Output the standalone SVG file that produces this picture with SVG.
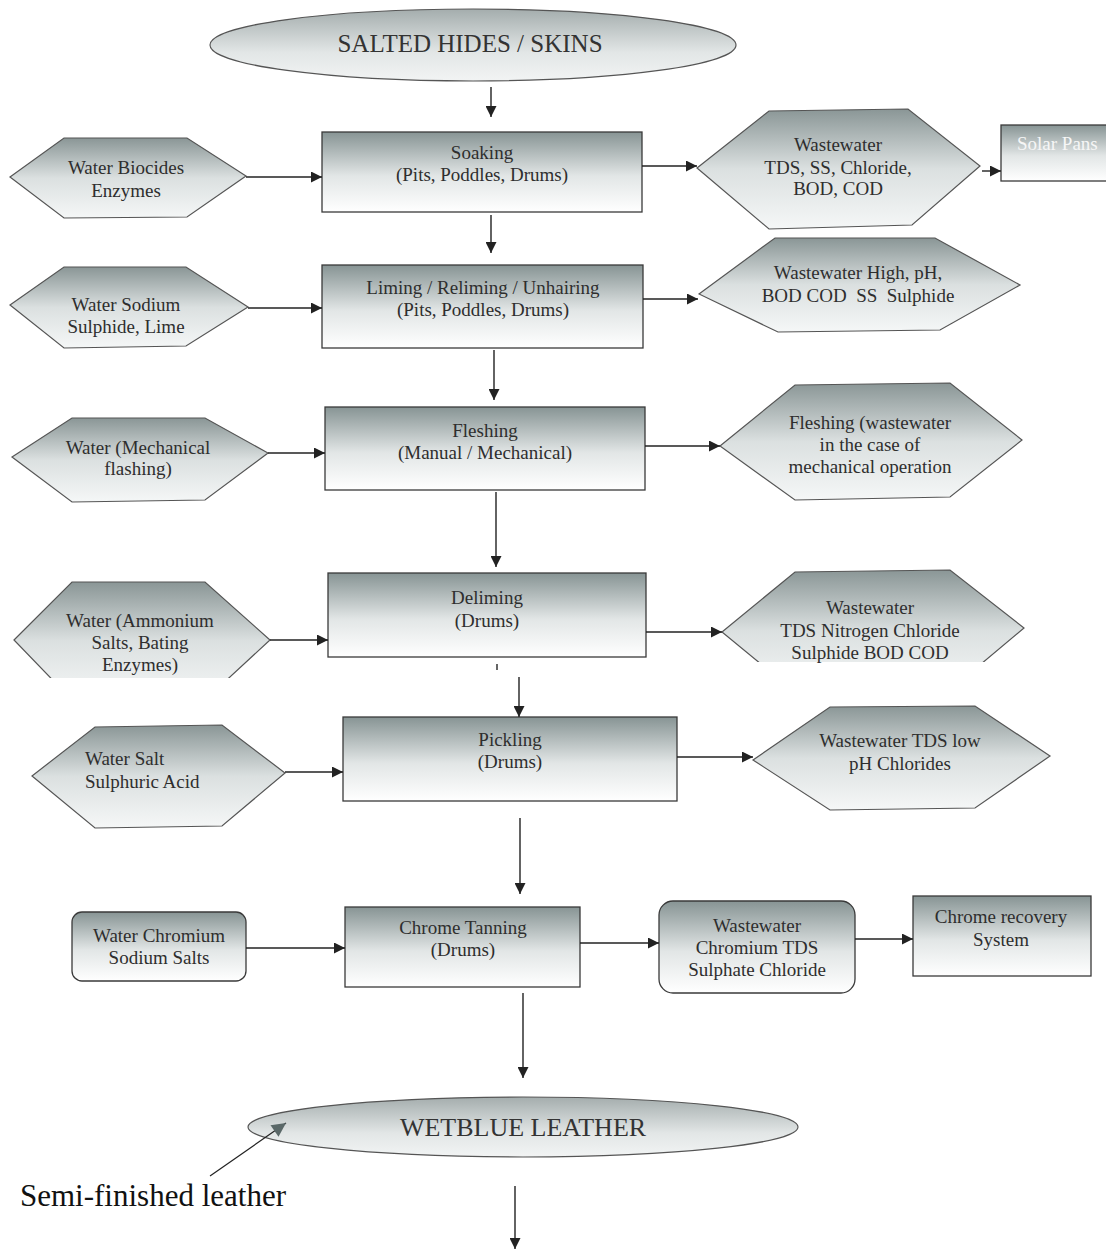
<svg xmlns="http://www.w3.org/2000/svg" width="1106" height="1250" viewBox="0 0 1106 1250">
<defs>
<linearGradient id="gBox" x1="0" y1="0" x2="0" y2="1">
<stop offset="0" stop-color="#879494"/>
<stop offset="0.55" stop-color="#e2e6e6"/>
<stop offset="1" stop-color="#ffffff"/>
</linearGradient>
<linearGradient id="gHex" x1="0" y1="0" x2="0" y2="1">
<stop offset="0" stop-color="#8a9696"/>
<stop offset="0.5" stop-color="#dbe0e0"/>
<stop offset="1" stop-color="#f5f7f7"/>
</linearGradient>
<linearGradient id="gEll" x1="0" y1="0" x2="0" y2="1">
<stop offset="0" stop-color="#a4adad"/>
<stop offset="0.6" stop-color="#e2e6e6"/>
<stop offset="1" stop-color="#f2f4f4"/>
</linearGradient>
<marker id="ah" viewBox="0 0 10 10" refX="10" refY="5" markerWidth="12" markerHeight="11" markerUnits="userSpaceOnUse" orient="auto">
<path d="M0,0 L10,5 L0,10 z" fill="#222"/>
</marker>
<marker id="ahg" viewBox="0 0 10 10" refX="10" refY="5" markerWidth="15" markerHeight="14" markerUnits="userSpaceOnUse" orient="auto">
<path d="M0,0 L10,5 L0,10 z" fill="#5a6868"/>
</marker>
<clipPath id="clip4"><rect x="0" y="560" width="300" height="118"/></clipPath>
<clipPath id="clipW4"><rect x="700" y="560" width="360" height="102"/></clipPath>
</defs>
<style>
.box{fill:url(#gBox);stroke:#3a3a3a;stroke-width:1.3}
.hex{fill:url(#gHex);stroke:#555;stroke-width:1.2}
.ell{fill:url(#gEll);stroke:#555;stroke-width:1.2}
.t{font-family:"Liberation Serif","Times New Roman",serif;font-size:19px;fill:#2e2e2e;text-anchor:middle}
.tl{font-family:"Liberation Serif","Times New Roman",serif;font-size:19px;fill:#2e2e2e}
.big{font-family:"Liberation Serif","Times New Roman",serif;font-size:25px;fill:#333;text-anchor:middle}
.c{stroke:#222;stroke-width:1.4;fill:none;marker-end:url(#ah)}
</style>

<g id="salted">
<ellipse class="ell" cx="473" cy="45" rx="263" ry="36"/>
<text class="big" x="470" y="52">SALTED HIDES / SKINS</text>
</g>

<g id="soaking">
<rect class="box" x="322" y="132" width="320" height="80"/>
<text class="t" x="482" y="159">Soaking</text>
<text class="t" x="482" y="181">(Pits, Poddles, Drums)</text>
</g>
<g id="in-soaking">
<polygon class="hex" points="10,177 64,138 187,138 246,176 187,217 64,218"/>
<text class="t" x="126" y="174">Water Biocides</text>
<text class="t" x="126" y="197">Enzymes</text>
</g>
<g id="out-soaking">
<polygon class="hex" points="697,168 769,111 908,109 980,166 912,225 769,229"/>
<text class="t" x="838" y="151">Wastewater</text>
<text class="t" x="838" y="174">TDS, SS, Chloride,</text>
<text class="t" x="838" y="195">BOD, COD</text>
</g>
<g id="solar">
<rect class="box" x="1001" y="125" width="110" height="56"/>
<text class="tl" x="1017" y="150" style="fill:#f6f6f6">Solar Pans</text>
</g>

<g id="liming">
<rect class="box" x="322" y="265" width="321" height="83"/>
<text class="t" x="483" y="294">Liming / Reliming / Unhairing</text>
<text class="t" x="483" y="316">(Pits, Poddles, Drums)</text>
</g>
<g id="in-liming">
<polygon class="hex" points="10,305 64,267 186,267 248,307 186,346 64,348"/>
<text class="t" x="126" y="311">Water Sodium</text>
<text class="t" x="126" y="333">Sulphide, Lime</text>
</g>
<g id="out-liming">
<polygon class="hex" points="699,294 775,238 935,238 1020,285 940,330 778,332"/>
<text class="t" x="858" y="279">Wastewater High, pH,</text>
<text class="t" x="858" y="302" style="white-space:pre">BOD COD  SS  Sulphide</text>
</g>

<g id="fleshing">
<rect class="box" x="325" y="407" width="320" height="83"/>
<text class="t" x="485" y="437">Fleshing</text>
<text class="t" x="485" y="459">(Manual / Mechanical)</text>
</g>
<g id="in-fleshing">
<polygon class="hex" points="12,457 72,418 205,418 268,453 205,500 72,502"/>
<text class="t" x="138" y="454">Water (Mechanical</text>
<text class="t" x="138" y="475">flashing)</text>
</g>
<g id="out-fleshing">
<polygon class="hex" points="720,446 795,385 950,383 1022,440 950,497 795,500"/>
<text class="t" x="870" y="429">Fleshing (wastewater</text>
<text class="t" x="870" y="451">in the case of</text>
<text class="t" x="870" y="473">mechanical operation</text>
</g>

<g id="deliming">
<rect class="box" x="328" y="573" width="318" height="84"/>
<text class="t" x="487" y="604">Deliming</text>
<text class="t" x="487" y="627">(Drums)</text>
</g>
<g id="in-deliming">
<polygon class="hex" clip-path="url(#clip4)" points="14,640 72,582 205,582 270,640 205,700 72,700"/>
<text class="t" x="140" y="627">Water (Ammonium</text>
<text class="t" x="140" y="649">Salts, Bating</text>
<text class="t" x="140" y="671">Enzymes)</text>
</g>
<g id="out-deliming">
<polygon class="hex" clip-path="url(#clipW4)" points="722,632 795,572 950,570 1024,628 950,690 795,692"/>
<text class="t" x="870" y="614">Wastewater</text>
<text class="t" x="870" y="637">TDS Nitrogen Chloride</text>
<text class="t" x="870" y="659">Sulphide BOD COD</text>
</g>

<g id="pickling">
<rect class="box" x="343" y="717" width="334" height="84"/>
<text class="t" x="510" y="746">Pickling</text>
<text class="t" x="510" y="768">(Drums)</text>
</g>
<g id="in-pickling">
<polygon class="hex" points="32,776 95,727 222,725 285,773 222,826 95,828"/>
<text class="tl" x="85" y="765">Water Salt</text>
<text class="tl" x="85" y="788">Sulphuric Acid</text>
</g>
<g id="out-pickling">
<polygon class="hex" points="753,760 830,707 975,706 1050,756 975,808 830,810"/>
<text class="t" x="900" y="747">Wastewater TDS low</text>
<text class="t" x="900" y="770">pH Chlorides</text>
</g>

<g id="chrome">
<rect class="box" x="345" y="907" width="235" height="80"/>
<text class="t" x="463" y="934">Chrome Tanning</text>
<text class="t" x="463" y="956">(Drums)</text>
</g>
<g id="in-chrome">
<rect class="box" x="72" y="912" width="174" height="69" rx="10"/>
<text class="t" x="159" y="942">Water Chromium</text>
<text class="t" x="159" y="964">Sodium Salts</text>
</g>
<g id="out-chrome">
<rect class="box" x="659" y="901" width="196" height="92" rx="14"/>
<text class="t" x="757" y="932">Wastewater</text>
<text class="t" x="757" y="954">Chromium TDS</text>
<text class="t" x="757" y="976">Sulphate Chloride</text>
</g>
<g id="recovery">
<rect class="box" x="913" y="896" width="178" height="80"/>
<text class="t" x="1001" y="923">Chrome recovery</text>
<text class="t" x="1001" y="946">System</text>
</g>

<g id="wetblue">
<ellipse class="ell" cx="523" cy="1127" rx="275" ry="30"/>
<text class="big" x="523" y="1136" style="font-size:26px">WETBLUE LEATHER</text>
</g>
<g id="semi-label">
<text x="20" y="1206" style="font-family:'Liberation Serif','Times New Roman',serif;font-size:31px;fill:#111">Semi-finished leather</text>
</g>

<g id="connectors">
<line class="c" x1="491" y1="87" x2="491" y2="117"/>
<line class="c" x1="246" y1="177" x2="322" y2="177"/>
<line class="c" x1="642" y1="166" x2="697" y2="166"/>
<line class="c" x1="982" y1="171" x2="1001" y2="171"/>
<line class="c" x1="491" y1="215" x2="491" y2="253"/>
<line class="c" x1="248" y1="308" x2="322" y2="308"/>
<line class="c" x1="643" y1="299" x2="698" y2="299"/>
<line class="c" x1="494" y1="350" x2="494" y2="400"/>
<line class="c" x1="268" y1="453" x2="325" y2="453"/>
<line class="c" x1="645" y1="446" x2="720" y2="446"/>
<line class="c" x1="496" y1="492" x2="496" y2="567"/>
<line class="c" x1="270" y1="640" x2="328" y2="640"/>
<line class="c" x1="646" y1="632" x2="722" y2="632"/>
<line x1="497" y1="664" x2="497" y2="670" stroke="#333" stroke-width="1.5"/>
<line class="c" x1="519" y1="677" x2="519" y2="717"/>
<line class="c" x1="285" y1="772" x2="343" y2="772"/>
<line class="c" x1="677" y1="757" x2="753" y2="757"/>
<line class="c" x1="520" y1="818" x2="520" y2="894"/>
<line class="c" x1="246" y1="948" x2="345" y2="948"/>
<line class="c" x1="580" y1="943" x2="659" y2="943"/>
<line class="c" x1="855" y1="939" x2="913" y2="939"/>
<line class="c" x1="523" y1="993" x2="523" y2="1078"/>
<line x1="210" y1="1176" x2="286" y2="1123" stroke="#222" stroke-width="1.2" marker-end="url(#ahg)"/>
<line class="c" x1="515" y1="1186" x2="515" y2="1249"/>
</g>
</svg>
